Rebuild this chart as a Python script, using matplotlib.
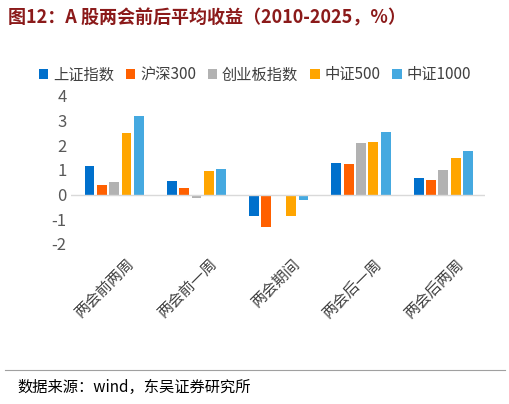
import matplotlib
matplotlib.use('Agg')
import matplotlib.pyplot as plt
import matplotlib.transforms as mt
import numpy as np

plt.rcParams['font.family'] = ['Noto Sans CJK SC', 'DejaVu Sans']

categories = ['两会前两周', '两会前一周', '两会期间', '两会后一周', '两会后两周']
series_names = ['上证指数', '沪深300', '创业板指数', '中证500', '中证1000']
# values per category (in series order)
cat_pre2 = [1.16, 0.37, 0.50, 2.50, 3.20]
cat_pre1 = [0.53, 0.27, -0.15, 0.95, 1.02]
cat_during = [-0.87, -1.31, -0.05, -0.87, -0.20]
cat_post1 = [1.29, 1.25, 2.08, 2.13, 2.54]
cat_post2 = [0.68, 0.60, 1.00, 1.50, 1.77]
by_cat = [cat_pre2, cat_pre1, cat_during, cat_post1, cat_post2]
series_vals = [[c[i] for c in by_cat] for i in range(5)]
colors = ['#0070CC', '#FF6000', '#B2B2B2', '#FFA500', '#45A9E0']
yticks = [-2, -1, 0, 1, 2, 3, 4]

fig = plt.figure(figsize=(5.10, 4.04), dpi=100)
ax = fig.add_axes([0.14, 0.384, 0.81, 0.391])
x = np.arange(len(categories))
w = 0.12
gap = 0.15
for i, (name, vals) in enumerate(zip(series_names, series_vals)):
    ax.bar(x + (i - 2) * gap, vals, w, color=colors[i], label=name)
ax.set_ylim(-2.2, 4.2)
ax.set_xlim(-0.52, 4.5)
ax.set_yticks(yticks)
ax.set_yticklabels([str(t) for t in yticks], fontsize=12, color='#595959')
ax.axhline(0, color='#D9D9D9', lw=1)
for s in ax.spines.values():
    s.set_visible(False)
ax.tick_params(length=0)
ax.set_xticks(x)
ax.set_xticklabels(categories, rotation=45, ha='right', rotation_mode='anchor',
                   fontsize=11, color='#404040')
offset = mt.ScaledTranslation(0.12, -0.02, fig.dpi_scale_trans)
for lbl in ax.get_xticklabels():
    lbl.set_transform(lbl.get_transform() + offset)

fig.legend(loc='upper center', bbox_to_anchor=(0.5, 0.87), ncol=5, frameon=False,
           fontsize=11, handlelength=0.6, handleheight=0.6, columnspacing=0.8,
           handletextpad=0.3, labelcolor='#404040')
fig.text(0.015, 0.955, '图12：A 股两会前后平均收益（2010-2025，%）', fontsize=13,
         fontweight='bold', color='#8B1A1A', va='center')
fig.add_artist(plt.Line2D([0.01, 0.99], [0.085, 0.085], color='#A0A0A0', lw=0.8))
fig.text(0.035, 0.04, '数据来源：wind，东吴证券研究所', fontsize=11, color='#000000', va='center')
fig.savefig('out.png', dpi=100)
